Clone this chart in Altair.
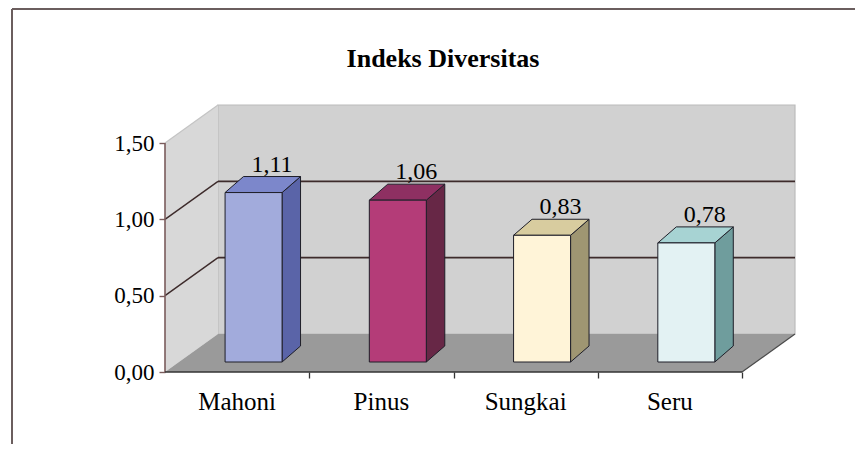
import altair as alt
import pandas as pd

# ---------------- data ----------------
categories = ["Mahoni", "Pinus", "Sungkai", "Seru"]
values = [1.11, 1.06, 0.83, 0.78]
front_colors = ["#a2abdc", "#b43c78", "#fff4d8", "#e3f2f3"]
top_colors = ["#7c87cb", "#8e3062", "#d8cc9f", "#a7d3d3"]
side_colors = ["#5a64a8", "#672746", "#9f9672", "#6f9d9d"]
y_ticks = [0.0, 0.5, 1.0, 1.5]
x_ticks = [1, 2, 3, 4]
grid_values = [0.5, 1.0]
title_text = "Indeks Diversitas"

# ---------------- geometry (data units) ----------------
W, H = 630, 267
NCAT = len(categories)
YTOP = 1.5
DX, DY = 0.3674, 0.249          # back wall depth offset
XMAX, YMAX = NCAT + DX, YTOP + DY
BW = 0.1976                     # half bar width
BX, BY = 0.114, 0.0655          # bar position inside depth
DDX, DDY = 0.128, 0.105         # bar depth

xs = alt.Scale(domain=[0, XMAX], nice=False, zero=False)
ys = alt.Scale(domain=[0, YMAX], nice=False, zero=False)
FONT = "Liberation Serif"

X_AX = alt.Axis(values=x_ticks, labels=False, domain=False, grid=False,
                tickSize=6, tickColor="#333333", tickWidth=1.3)
Y_AX = alt.Axis(values=y_ticks, domain=False, grid=False, tickSize=6,
                tickColor="#7a5c5c", tickWidth=1.4,
                labelExpr="replace(format(datum.value, '.2f'), '.', ',')",
                labelFont=FONT, labelFontSize=23, labelColor="#000000",
                labelPadding=5)


def fmt(v):
    return f"{v:.2f}".replace(".", ",")


bars = pd.DataFrame({
    "name": categories,
    "value": values,
    "front": front_colors,
    "topc": top_colors,
    "sidec": side_colors,
})
bars["i"] = range(NCAT)
bars["xc"] = bars["i"] + 0.5
bars["xl"] = bars["xc"] - BW + BX
bars["xr"] = bars["xc"] + BW + BX
bars["yb"] = BY
bars["yt"] = bars["value"] + BY
bars["lx"] = bars["xc"] + BX + DDX
bars["ly"] = bars["yt"] + DDY
bars["label"] = [fmt(v) for v in values]

side_rows, top_rows = [], []
for rec in bars.to_dict("records"):
    side_rows.append({"name": rec["name"], "c": rec["sidec"], "x": rec["xr"], "lo": BY, "hi": rec["yt"]})
    side_rows.append({"name": rec["name"], "c": rec["sidec"], "x": rec["xr"] + DDX,
                      "lo": BY + DDY, "hi": rec["yt"] + DDY})
    top_rows.append({"name": rec["name"], "c": rec["topc"], "y": rec["yt"], "xa": rec["xl"], "xb": rec["xr"]})
    top_rows.append({"name": rec["name"], "c": rec["topc"], "y": rec["yt"] + DDY,
                     "xa": rec["xl"] + DDX, "xb": rec["xr"] + DDX})
side_df = pd.DataFrame(side_rows)
top_df = pd.DataFrame(top_rows)

wall_df = pd.DataFrame([{"x": DX, "x2": NCAT + DX, "y": DY, "y2": YTOP + DY}])
left_df = pd.DataFrame([{"x": 0, "lo": 0, "hi": YTOP}, {"x": DX, "lo": DY, "hi": YTOP + DY}])
floor_df = pd.DataFrame([{"y": 0, "xa": 0, "xb": NCAT}, {"y": DY, "xa": DX, "xb": NCAT + DX}])

lines = []
for v in grid_values:
    lines.append({"x": DX, "y": v + DY, "x2": NCAT + DX, "y2": v + DY, "c": "#3d2b2b", "w": 1.6})
    lines.append({"x": 0, "y": v, "x2": DX, "y2": v + DY, "c": "#3d2b2b", "w": 1.4})
lines.append({"x": 0, "y": YTOP, "x2": DX, "y2": YTOP + DY, "c": "#c4c4c4", "w": 1.2})
lines.append({"x": NCAT, "y": 0, "x2": NCAT + DX, "y2": DY, "c": "#4a4a4a", "w": 1.2})
lines.append({"x": 0, "y": 0, "x2": 0, "y2": YTOP, "c": "#7a5c5c", "w": 1.6})
lines.append({"x": 0, "y": 0, "x2": NCAT, "y2": 0, "c": "#333333", "w": 1.6})
lines_df = pd.DataFrame(lines)


def X(f):
    return alt.X(f, scale=xs, axis=X_AX, title=None)


def Y(f):
    return alt.Y(f, scale=ys, axis=Y_AX, title=None)


# ---------------- layers ----------------
wall = alt.Chart(wall_df).mark_rect(fill="#d1d1d1", stroke="#bcbcbc", strokeWidth=1.2).encode(
    x=X("x:Q"), x2="x2:Q", y=Y("y:Q"), y2="y2:Q",
)

left_wall = alt.Chart(left_df).mark_area(fill="#d8d8d8").encode(
    x=X("x:Q"), y=Y("lo:Q"), y2="hi:Q",
)

floor = alt.Chart(floor_df).mark_area(orient="horizontal", fill="#9a9a9a").encode(
    y=Y("y:Q"), x=X("xa:Q"), x2="xb:Q",
)

rules = alt.Chart(lines_df).mark_rule().encode(
    x=X("x:Q"), x2="x2:Q", y=Y("y:Q"), y2="y2:Q",
    color=alt.Color("c:N", scale=None),
    strokeWidth=alt.StrokeWidth("w:Q", scale=None),
)

side = alt.Chart(side_df).mark_area(stroke="#1e1e28", strokeWidth=1).encode(
    x=X("x:Q"), y=Y("lo:Q"), y2="hi:Q",
    detail="name:N",
    fill=alt.Fill("c:N", scale=None),
)

top = alt.Chart(top_df).mark_area(orient="horizontal", stroke="#1e1e28", strokeWidth=1).encode(
    y=Y("y:Q"), x=X("xa:Q"), x2="xb:Q",
    detail="name:N",
    fill=alt.Fill("c:N", scale=None),
)

front = alt.Chart(bars).mark_rect(stroke="#1e1e28", strokeWidth=1).encode(
    x=X("xl:Q"), x2="xr:Q", y=Y("yb:Q"), y2="yt:Q",
    fill=alt.Fill("front:N", scale=None),
)

value_labels = alt.Chart(bars).mark_text(font=FONT, fontSize=24, color="#000000",
                                         baseline="alphabetic", dy=-5).encode(
    x=X("lx:Q"), y=Y("ly:Q"), text="label:N",
)

cat_labels = alt.Chart(bars).mark_text(font=FONT, fontSize=25, color="#000000",
                                       baseline="alphabetic").encode(
    x=X("xc:Q"), y=alt.value(305), text="name:N",
)

title = alt.Chart(pd.DataFrame({"t": [title_text]})).mark_text(
    font=FONT, fontSize=26, fontWeight="bold", color="#000000", baseline="alphabetic"
).encode(x=alt.value(278), y=alt.value(-38), text="t:N")

border_df = pd.DataFrame({"k": [1]})
border_top = alt.Chart(border_df).mark_rule(color="#6b5e5e", strokeWidth=2).encode(
    x=alt.value(-153), x2=alt.value(W + 70), y=alt.value(-96), y2=alt.value(-96))
border_left = alt.Chart(border_df).mark_rule(color="#6b5e5e", strokeWidth=2).encode(
    x=alt.value(-153), x2=alt.value(-153), y=alt.value(-96), y2=alt.value(H + 80))

chart = alt.layer(
    wall, left_wall, floor, rules, side, top, front, value_labels, cat_labels,
    title, border_top, border_left,
).properties(
    width=W, height=H,
    padding={"left": 157, "top": 97, "right": 60, "bottom": 72},
    autosize=alt.AutoSizeParams(type="none"),
    background="#ffffff",
).configure_view(strokeWidth=0)

chart.save("out.html", embed_options={"renderer": "svg", "actions": False})
